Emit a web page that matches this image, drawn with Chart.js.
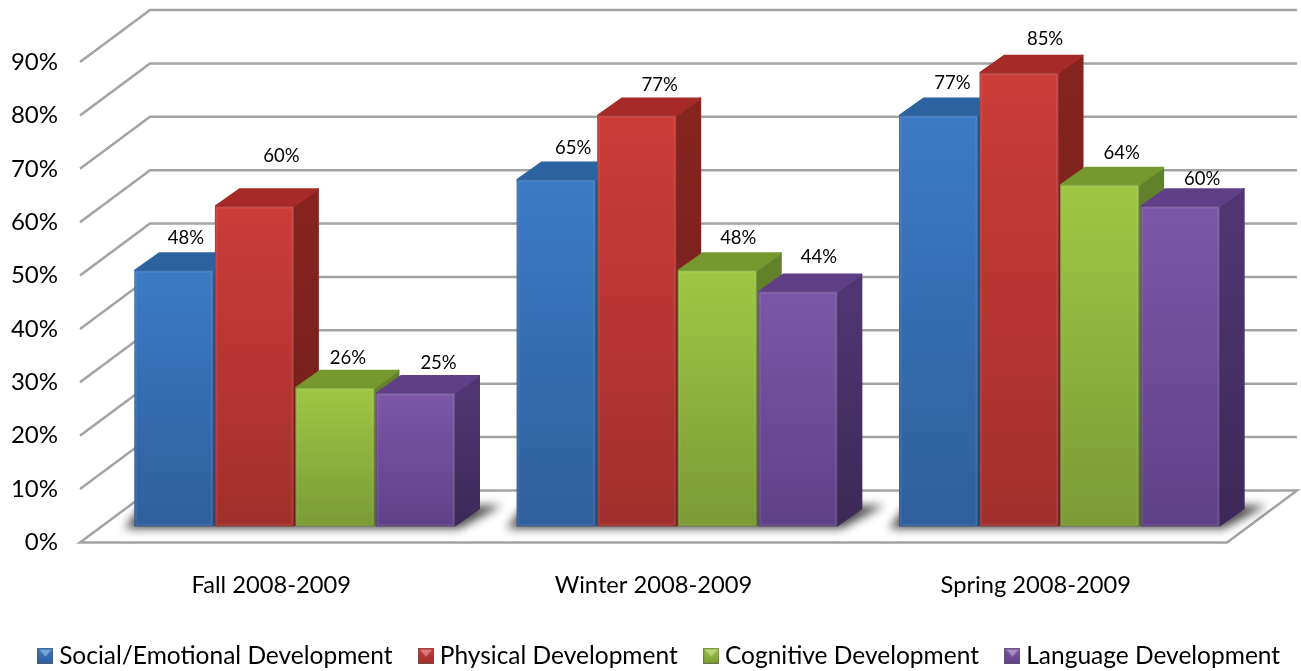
<!DOCTYPE html>
<html><head><meta charset="utf-8">
<style>html,body{margin:0;padding:0;background:#fff}#wrap{width:1301px;height:671px;position:relative}</style>
<script src="https://cdn.jsdelivr.net/npm/chart.js@4"></script>
</head><body><div id="wrap"><canvas id="c" width="1301" height="671"></canvas></div>
<script>
const categories = ['Fall 2008-2009','Winter 2008-2009','Spring 2008-2009'];
const seriesNames = ['Social/Emotional Development','Physical Development','Cognitive Development','Language Development'];
const socialEmotional = [48,65,77];
const physical = [60,77,85];
const cognitive = [26,48,64];
const language = [25,44,60];
const tickValues = [0,10,20,30,40,50,60,70,80,90];

// style tables
const faceTop = ['#3c7ac6','#cc3c39','#9fc744','#7d57a7'];
const faceBottom = ['#2f5f9c','#a12f2b','#7b9a36','#5f4187'];
const topColor = ['#2c62a0','#a62b28','#76982f','#5f3f86'];
const sideTop = ['#25548a','#86241f','#62812a','#4f3672'];
const sideBottom = ['#1f4674','#6f1e1a','#506b22','#3c2958'];
const labelNudge = [
 [[12,-32],[17,-31],[14,-32]],
 [[27,-50],[23,-30],[26,-34]],
 [[13,-30],[21,-32],[22,-31.5]],
 [[23,-30],[21,-35],[22,-27]]
];
const FONT = 'Lato, Carlito, sans-serif';
const BAR_SHIFT = 23.5, DX = 25, DY = 18, WALL_X = 70, WALL_Y = -52;

function icon(i){
  const s=16, c=document.createElement('canvas'); c.width=s; c.height=s;
  const g=c.getContext('2d');
  const gr=g.createLinearGradient(0,0,0,s); gr.addColorStop(0,faceTop[i]); gr.addColorStop(1,faceBottom[i]);
  g.fillStyle=gr; g.fillRect(0,0,s,s);
  g.fillStyle='rgba(255,255,255,.35)';
  g.beginPath(); g.moveTo(2,2); g.lineTo(14,2); g.lineTo(8,9); g.closePath(); g.fill();
  g.strokeStyle='rgba(90,90,90,.55)'; g.strokeRect(.5,.5,s-1,s-1);
  return c;
}
const icons = faceTop.map((_,i)=>icon(i));

const faceGradient = i => ctx => {
  const a = ctx.chart.chartArea; if(!a) return faceTop[i];
  const sc = ctx.chart.scales.yBars;
  const v = ctx.raw==null?0:ctx.raw;
  const g = ctx.chart.ctx.createLinearGradient(0, sc.getPixelForValue(v), 0, sc.getPixelForValue(0));
  g.addColorStop(0,faceTop[i]); g.addColorStop(1,faceBottom[i]);
  return g;
};

const scene3d = {
  id:'scene3d',
  beforeDatasetsDraw(chart){
    const ctx=chart.ctx, yS=chart.scales.y, a=chart.chartArea;
    ctx.save();
    ctx.strokeStyle='#a3a3a3'; ctx.lineWidth=2.5; ctx.lineJoin='miter';
    tickValues.forEach(v=>{
      const y=yS.getPixelForValue(v);
      ctx.beginPath();
      ctx.moveTo(a.left,y); ctx.lineTo(a.left+WALL_X,y+WALL_Y); ctx.lineTo(a.right+WALL_X,y+WALL_Y);
      if(v===0){ ctx.lineTo(a.right,y); ctx.closePath(); }
      ctx.stroke();
    });
    ctx.restore();

    ctx.save();
    ctx.translate(BAR_SHIFT,0);
    const metas=chart.getSortedVisibleDatasetMetas().filter(m=>m.type==='bar');
    const base=chart.scales.yBars.getPixelForValue(0);
    categories.forEach((_,g)=>{
      const f=metas[0].data[g], l=metas[metas.length-1].data[g];
      const x0=f.x-f.width/2, x1=l.x+l.width/2;
      ctx.save();
      ctx.filter='blur(5px)';
      ctx.fillStyle='rgba(30,30,30,.8)';
      ctx.beginPath();
      ctx.moveTo(x0-10,base+2); ctx.lineTo(x1+4,base+2); ctx.lineTo(x1+DX+22,base-DY-3); ctx.lineTo(x0+8,base-DY-3);
      ctx.closePath(); ctx.fill();
      ctx.restore();
    });
    ctx.lineJoin='round';
    metas.forEach(m=>{
      const i=m.index;
      m.data.forEach(el=>{
        const L=el.x-el.width/2, R=el.x+el.width/2, T=el.y;
        const sg=ctx.createLinearGradient(0,T,0,base);
        sg.addColorStop(0,sideTop[i]); sg.addColorStop(1,sideBottom[i]);
        ctx.fillStyle=sg; ctx.strokeStyle=sg; ctx.lineWidth=2;
        ctx.beginPath(); ctx.moveTo(R,T); ctx.lineTo(R+DX-1,T-DY+1); ctx.lineTo(R+DX-1,base-DY); ctx.lineTo(R,base-1); ctx.closePath(); ctx.fill(); ctx.stroke();
        ctx.fillStyle=topColor[i]; ctx.strokeStyle=topColor[i];
        ctx.beginPath(); ctx.moveTo(L+1,T); ctx.lineTo(L+DX,T-DY+1); ctx.lineTo(R+DX-1,T-DY+1); ctx.lineTo(R,T); ctx.closePath(); ctx.fill(); ctx.stroke();
        el.draw(ctx, a);
        ctx.strokeStyle='rgba(255,255,255,.08)'; ctx.lineWidth=2;
        ctx.strokeRect(L+1.5,T+1.5,el.width-3,base-T-3);
        ctx.strokeStyle='rgba(70,70,70,.3)'; ctx.lineWidth=1;
        ctx.strokeRect(L+.5,T+.5,el.width-1,base-T-1);
      });
    });
    ctx.font='18.5px '+FONT; ctx.fillStyle='#000'; ctx.textAlign='center'; ctx.textBaseline='middle';
    metas.forEach(m=>{
      const vals=chart.data.datasets[m.index].data;
      m.data.forEach((el,g)=>{
        const n=labelNudge[m.index][g];
        ctx.fillText(vals[g]+'%', el.x+n[0], el.y+n[1]);
      });
    });
    ctx.restore();
    return false;
  }
};

const valueSets=[socialEmotional,physical,cognitive,language];
new Chart(document.getElementById('c'),{
  type:'bar',
  plugins:[scene3d],
  data:{labels:categories,datasets:seriesNames.map((n,i)=>({
    label:n,data:valueSets[i],yAxisID:'yBars',
    backgroundColor:faceGradient(i),borderWidth:0,
    barPercentage:.98,categoryPercentage:322/382
  }))},
  options:{
    responsive:false,animation:false,
    layout:{padding:{top:62,right:-31,left:-8,bottom:-7}},
    plugins:{
      tooltip:{enabled:false},
      legend:{position:'bottom',labels:{
        font:{family:FONT,size:24.5},color:'#000',padding:32,
        usePointStyle:true,pointStyleWidth:3,boxHeight:16,
        generateLabels(){return seriesNames.map((t,i)=>({text:t,pointStyle:icons[i],fontColor:'#000',datasetIndex:i,lineWidth:0,hidden:false}));}
      }}
    },
    scales:{
      x:{grid:{display:false},border:{display:false},
        ticks:{font:{family:FONT,size:23.7},color:'#000',padding:21,maxRotation:0},
        afterFit(s){s.height=69;}},
      y:{position:'left',min:0,max:90,grid:{display:false},border:{display:false},
        ticks:{stepSize:10,font:{family:FONT,size:24},color:'#000',padding:14,callback:v=>v+'%'},
        afterFit(s){s.width=88;}},
      yBars:{position:'right',min:-3,max:87,grid:{display:false},border:{display:false},
        ticks:{display:false},afterFit(s){s.width=105;}}
    }
  }
});
</script></body></html>
